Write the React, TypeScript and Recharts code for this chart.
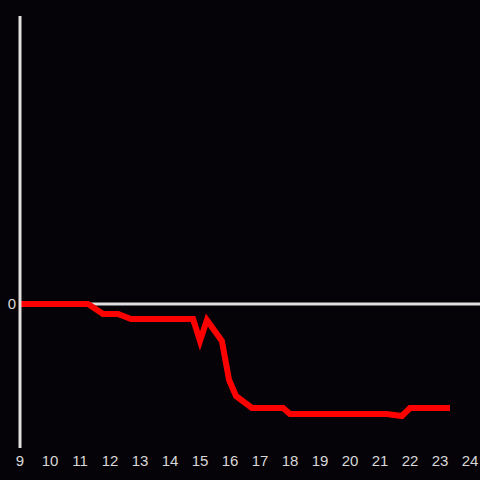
import React from 'react';
import { LineChart, Line, XAxis, YAxis, ReferenceLine } from 'recharts';

const hours = [9, 11.27, 11.77, 12.27, 12.7, 14.77, 15.0, 15.23, 15.73, 15.97, 16.2, 16.73, 17.77, 18.0, 21.23, 21.73, 22.0, 23.33];
const values = [0, 0, -10, -10, -15, -15, -37, -16, -37, -76, -92, -104, -104, -110, -110, -112, -104, -104];
const hourTicks = [9, 10, 11, 12, 13, 14, 15, 16, 17, 18, 19, 20, 21, 22, 23, 24];
const valueTicks = [0];

const data = hours.map((h, i) => ({ hour: h, value: values[i] }));

const tickStyle = { fill: '#d8d8d8', fontSize: 15, fontFamily: 'Liberation Sans, Arial, sans-serif' };

const App: React.FC = () => {
  return (
    <div style={{ position: 'fixed', top: 0, left: 0, width: 480, height: 480, background: '#050307' }}>
      <LineChart width={480} height={480} data={data} margin={{ top: 16, right: 0, bottom: 0, left: 0 }}>
        <XAxis
          dataKey="hour"
          type="number"
          domain={[9, 24.333]}
          ticks={hourTicks}
          allowDataOverflow
          axisLine={false}
          tickLine={false}
          tickSize={0}
          height={32}
          tick={tickStyle}
          tickMargin={7}
        />
        <YAxis
          type="number"
          domain={[-144, 288]}
          ticks={valueTicks}
          allowDataOverflow
          width={20}
          axisLine={{ stroke: '#e0e0e0', strokeWidth: 3 }}
          tickLine={false}
          tickSize={0}
          tick={tickStyle}
          tickMargin={4}
        />
        <ReferenceLine y={0} stroke="#e0e0e0" strokeWidth={3} />
        <Line
          dataKey="value"
          type="linear"
          stroke="#ff0000"
          strokeWidth={6}
          dot={false}
          isAnimationActive={false}
        />
      </LineChart>
    </div>
  );
};

export default App;
